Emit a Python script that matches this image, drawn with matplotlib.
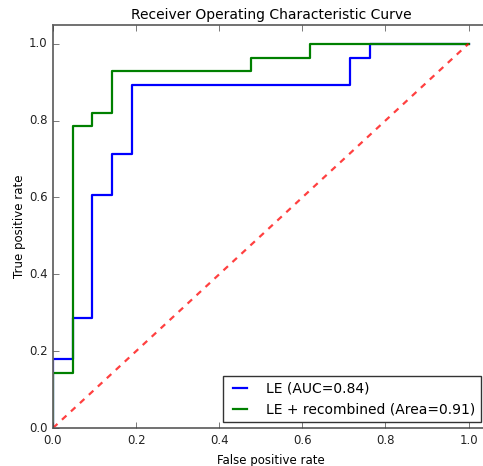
import matplotlib
matplotlib.use("Agg")
import matplotlib.pyplot as plt

# ROC points (fpr, tpr) for the two models
le_fpr = [0.0, 0.0, 0.048, 0.048, 0.095, 0.095, 0.143, 0.143, 0.190, 0.190,
          0.714, 0.714, 0.762, 0.762, 1.0]
le_tpr = [0.0, 0.179, 0.179, 0.286, 0.286, 0.607, 0.607, 0.714, 0.714, 0.893,
          0.893, 0.964, 0.964, 1.0, 1.0]

rec_fpr = [0.0, 0.0, 0.048, 0.048, 0.095, 0.095, 0.143, 0.143, 0.476, 0.476,
           0.619, 0.619, 1.0]
rec_tpr = [0.0, 0.143, 0.143, 0.786, 0.786, 0.821, 0.821, 0.929, 0.929, 0.964,
           0.964, 1.0, 1.0]

le_auc = 0.84
rec_auc = 0.91

plt.style.use("classic")
fig = plt.figure(figsize=(4.83, 4.66), dpi=100, facecolor="white")
ax = fig.add_axes([0.1097, 0.0815, 0.9033, 0.8659])

ax.plot(le_fpr, le_tpr, color="b", lw=1.6, label="LE (AUC=%.2f)" % le_auc)
ax.plot(rec_fpr, rec_tpr, color="g", lw=1.6,
        label="LE + recombined (Area=%.2f)" % rec_auc)
# chance line
ax.plot([0, 1], [0, 1], color="r", lw=1.6, alpha=0.75,
        linestyle=(0, (4.4, 4.4)))

ax.set_xlim(0, 1.05)
ax.set_ylim(0, 1.05)
ax.set_xticks([0.0, 0.2, 0.4, 0.6, 0.8, 1.0])
ax.set_yticks([0.0, 0.2, 0.4, 0.6, 0.8, 1.0])
ax.tick_params(labelsize=8.5, colors="#444444", labelcolor="#222222")
for sp in ax.spines.values():
    sp.set_color("#666666")
    sp.set_linewidth(1.3)

ax.set_xlabel("False positive rate", fontsize=8.5)
ax.set_ylabel("True positive rate", fontsize=8.5, labelpad=2)
ax.set_title("Receiver Operating Characteristic Curve", fontsize=10, pad=4)

leg = ax.legend(loc="lower right", fontsize=10, frameon=True,
                bbox_to_anchor=(0.981, 0.015), borderaxespad=0,
                handlelength=1.6, handletextpad=1.1)
leg.get_frame().set_edgecolor("#333333")

fig.savefig("out.png", dpi=100, facecolor="white")
